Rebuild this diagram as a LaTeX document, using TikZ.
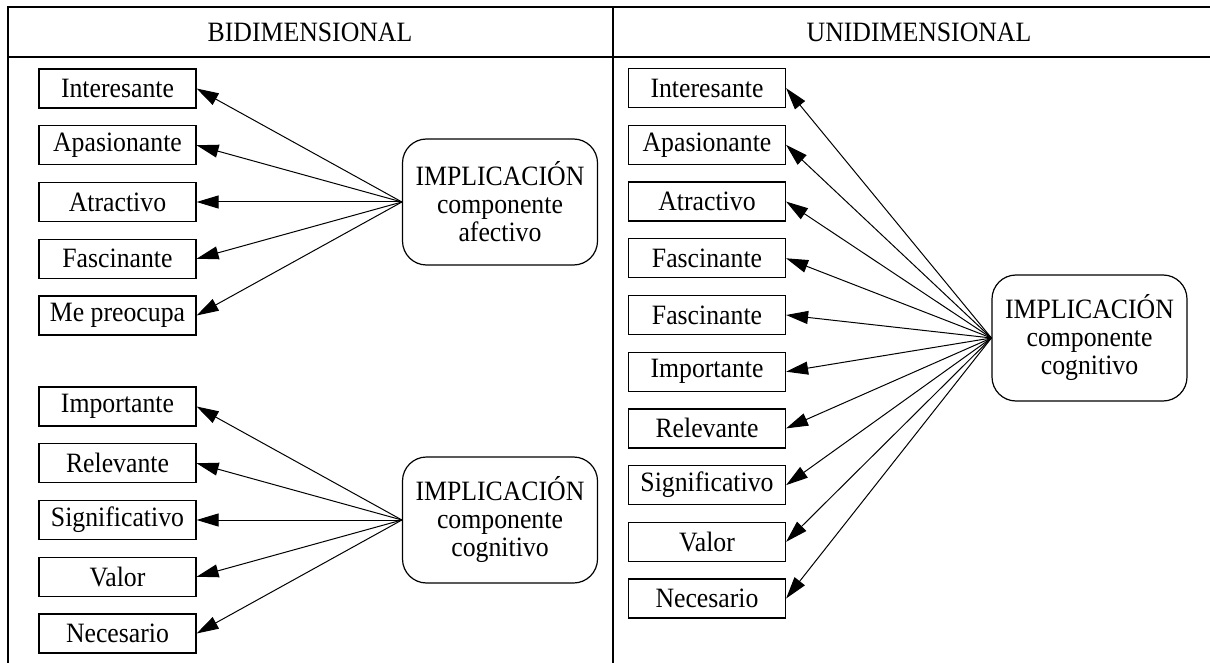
\documentclass[tikz,border=0pt]{standalone}
\usepackage{fontspec}
\setmainfont{Liberation Serif}[FakeStretch=0.92]
\usetikzlibrary{arrows.meta}
\begin{document}
\begin{tikzpicture}[x=1pt,y=-1pt,
  txt/.style={font=\fontsize{28}{28}\selectfont},
  item/.style={txt, draw, line width=1.2pt, minimum width=157pt, minimum height=39pt, inner sep=0pt},
  factor/.style={txt, draw, line width=1.2pt, rounded corners=24pt, minimum width=195pt, minimum height=126pt, align=center, inner sep=0pt},
  link/.style={line width=1pt, -{Triangle[length=22pt,width=13pt]}},
  rule/.style={line width=1.5pt}]
\useasboundingbox (0,0) rectangle (1210,663);

% table frame
\draw[rule] (8,663) -- (8,7) -- (1210,7);
\draw[rule] (8,57) -- (1210,57);
\draw[rule] (613,7) -- (613,663);
\node[txt] (hbi) at (310,32) {BIDIMENSIONAL};
\node[txt] (huni) at (919,32) {UNIDIMENSIONAL};

% two-factor model: affective component
\node[factor] (afe) at (500,202) {IMPLICACIÓN\\componente\\afectivo};
\foreach \n/\t [count=\i from 0] in {a1/Interesante, a2/Apasionante, a3/Atractivo, a4/Fascinante, a5/Me preocupa}
  \node[item] (\n) at (117.5,88.5+56.75*\i) {\t};
\foreach \n in {a1,a2,a3,a4,a5}
  \draw[link] (afe.west) -- (\n.east);

% two-factor model: cognitive component
\node[factor] (cog) at (500,520) {IMPLICACIÓN\\componente\\cognitivo};
\foreach \n/\t [count=\i from 0] in {c1/Importante, c2/Relevante, c3/Significativo, c4/Valor, c5/Necesario}
  \node[item] (\n) at (117.5,406.5+56.75*\i) {\t};
\foreach \n in {c1,c2,c3,c4,c5}
  \draw[link] (cog.west) -- (\n.east);

% one-factor model
\node[factor] (uni) at (1089.5,338) {IMPLICACIÓN\\componente\\cognitivo};
\foreach \n/\t [count=\i from 0] in {u1/Interesante, u2/Apasionante, u3/Atractivo, u4/Fascinante, u5/Fascinante, u6/Importante, u7/Relevante, u8/Significativo, u9/Valor, u10/Necesario}
  \node[item] (\n) at (707,88.2+56.7*\i) {\t};
\foreach \n in {u1,u2,u3,u4,u5,u6,u7,u8,u9,u10}
  \draw[link] (uni.west) -- (\n.east);
\end{tikzpicture}
\end{document}
